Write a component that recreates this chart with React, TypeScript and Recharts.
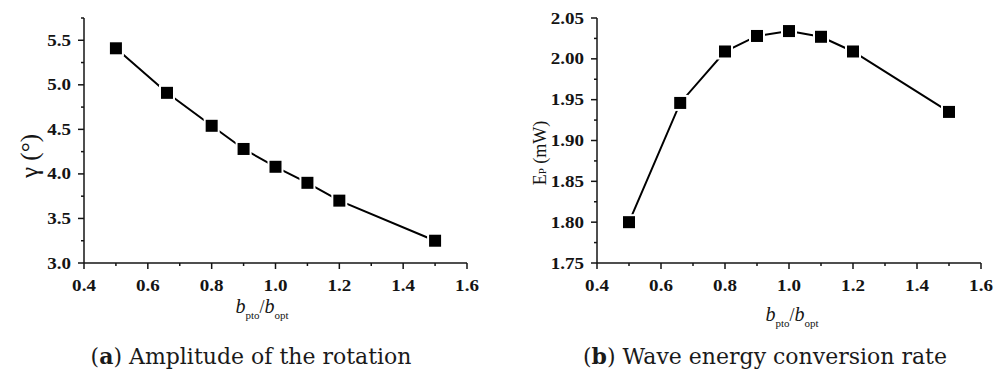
import React from "react";
import { LineChart, Line, XAxis, YAxis } from "recharts";

// b_pto / b_opt ratios
const ratios = [0.5, 0.66, 0.8, 0.9, 1.0, 1.1, 1.2, 1.5];
const gamma = [5.41, 4.91, 4.54, 4.28, 4.08, 3.9, 3.7, 3.25];
const power = [1.8, 1.946, 2.009, 2.028, 2.034, 2.027, 2.009, 1.935];

const xMajor = [0.4, 0.6, 0.8, 1.0, 1.2, 1.4, 1.6];
const xMinor = [0.5, 0.7, 0.9, 1.1, 1.3, 1.5];
const yMajorA = [3.0, 3.5, 4.0, 4.5, 5.0, 5.5];
const yMinorA = [3.25, 3.75, 4.25, 4.75, 5.25, 5.75];
const yMajorB = [1.75, 1.8, 1.85, 1.9, 1.95, 2.0, 2.05];
const yMinorB = [1.775, 1.825, 1.875, 1.925, 1.975, 2.025];

const dataA = ratios.map((r, i) => ({ r, v: gamma[i] }));
const dataB = ratios.map((r, i) => ({ r, v: power[i] }));

const ink = "#141414";
const serif = "Liberation Serif";

const tickText: React.CSSProperties = {
  fontFamily: serif,
  fontWeight: 700,
  fontSize: 17,
};

const merge = (a: number[], b: number[]) => [...a, ...b].sort((p, q) => p - q);

// slightly widened bold serif labels, like the original figure
const TickLabel = ({ x, y, anchor, children }: { x: number; y: number; anchor: "middle" | "end"; children: React.ReactNode }) => (
  <text transform={`translate(${x},${y}) scale(1.12,1)`} textAnchor={anchor} fill={ink} style={tickText}>
    {children}
  </text>
);

const XTick = (props: any) => {
  const { x, y, payload } = props;
  const major = xMajor.includes(payload.value);
  return (
    <g>
      <line x1={x} y1={y} x2={x} y2={y + (major ? 6 : 3)} stroke={ink} strokeWidth={1.5} />
      {major && <TickLabel x={x} y={y + 28} anchor="middle">{payload.value.toFixed(1)}</TickLabel>}
    </g>
  );
};

const makeYTick = (majors: number[], digits: number) => (props: any) => {
  const { x, y, payload } = props;
  const major = majors.includes(payload.value);
  return (
    <g>
      <line x1={x} y1={y} x2={x - (major ? 6 : 3)} y2={y} stroke={ink} strokeWidth={1.5} />
      {major && <TickLabel x={x - 13} y={y + 5.5} anchor="end">{payload.value.toFixed(digits)}</TickLabel>}
    </g>
  );
};

const SquareDot = (props: any) => {
  const { cx, cy, index } = props;
  if (cx == null || cy == null) return null;
  return (
    <g key={`dot-${index}`}>
      <rect x={cx - 8} y={cy - 8} width={16} height={16} fill="#fff" />
      <rect x={cx - 6} y={cy - 6} width={12} height={12} fill="#000" />
    </g>
  );
};

const XLabel = ({ cx, y }: { cx: number; y: number }) => (
  <text x={cx} y={y} textAnchor="middle" fill={ink} style={{ fontFamily: serif }}>
    <tspan fontStyle="italic" fontSize={20}>b</tspan>
    <tspan fontSize={11} dy={6}>pto</tspan>
    <tspan fontSize={18} dy={-6}>/</tspan>
    <tspan fontStyle="italic" fontSize={20}>b</tspan>
    <tspan fontSize={11} dy={6}>opt</tspan>
  </text>
);

function Panel(props: {
  data: { r: number; v: number }[];
  yDomain: [number, number];
  yTicks: number[];
  yTick: any;
  left: number;
  width: number;
  marginLeft: number;
  marginRight: number;
  yLabel: React.ReactNode;
  xLabelX: number;
  xLabelY: number;
}) {
  return (
    <div style={{ position: "absolute", left: props.left, top: 0 }}>
      <LineChart
        width={props.width}
        height={330}
        data={props.data}
        margin={{ top: 18, right: props.marginRight, left: props.marginLeft, bottom: 37 }}
      >
        <XAxis
          dataKey="r"
          type="number"
          domain={[0.4, 1.6]}
          ticks={merge(xMajor, xMinor)}
          interval={0}
          height={30}
          tickSize={0}
          tickMargin={0}
          tickLine={false}
          axisLine={{ stroke: ink, strokeWidth: 1.5 }}
          tick={<XTick />}
        />
        <YAxis
          type="number"
          domain={props.yDomain}
          ticks={props.yTicks}
          interval={0}
          width={60}
          tickSize={0}
          tickMargin={0}
          tickLine={false}
          axisLine={{ stroke: ink, strokeWidth: 1.5 }}
          tick={props.yTick}
        />
        <Line
          dataKey="v"
          type="linear"
          stroke="#000"
          strokeWidth={2}
          dot={<SquareDot />}
          activeDot={false}
          isAnimationActive={false}
        />
        {props.yLabel}
        <XLabel cx={props.xLabelX} y={props.xLabelY} />
      </LineChart>
    </div>
  );
}

const captionStyle: React.CSSProperties = {
  position: "absolute",
  top: 343,
  width: 500,
  textAlign: "center",
  fontFamily: "'DejaVu Serif', serif",
  fontSize: 22,
  color: "#1a1a1a",
  whiteSpace: "nowrap",
};

export default function App() {
  return (
    <div style={{ position: "absolute", left: 0, top: 0, width: 1001, height: 376, background: "#fff", overflow: "hidden" }}>
      <Panel
        data={dataA}
        yDomain={[3, 5.75]}
        yTicks={merge(yMajorA, yMinorA)}
        yTick={makeYTick(yMajorA, 1)}
        left={0}
        width={500}
        marginLeft={24}
        marginRight={33}
        xLabelX={262}
        xLabelY={313}
        yLabel={
          <text x={38} y={156} transform="rotate(-90 38 156)" textAnchor="middle" fill={ink} style={{ fontFamily: serif, fontSize: 25 }}>
            γ (°)
          </text>
        }
      />
      <Panel
        data={dataB}
        yDomain={[1.75, 2.05]}
        yTicks={merge(yMajorB, yMinorB)}
        yTick={makeYTick(yMajorB, 2)}
        left={500}
        width={501}
        marginLeft={37}
        marginRight={20}
        xLabelX={292}
        xLabelY={321}
        yLabel={
          <text x={46} y={153} transform="rotate(-90 46 153)" textAnchor="middle" fill={ink} style={{ fontFamily: serif, fontSize: 18 }}>
            E<tspan fontSize={11}>P</tspan> (mW)
          </text>
        }
      />
      <div style={{ ...captionStyle, left: 1 }}>
        (<b>a</b>) Amplitude of the rotation
      </div>
      <div style={{ ...captionStyle, left: 515 }}>
        (<b>b</b>) Wave energy conversion rate
      </div>
    </div>
  );
}
